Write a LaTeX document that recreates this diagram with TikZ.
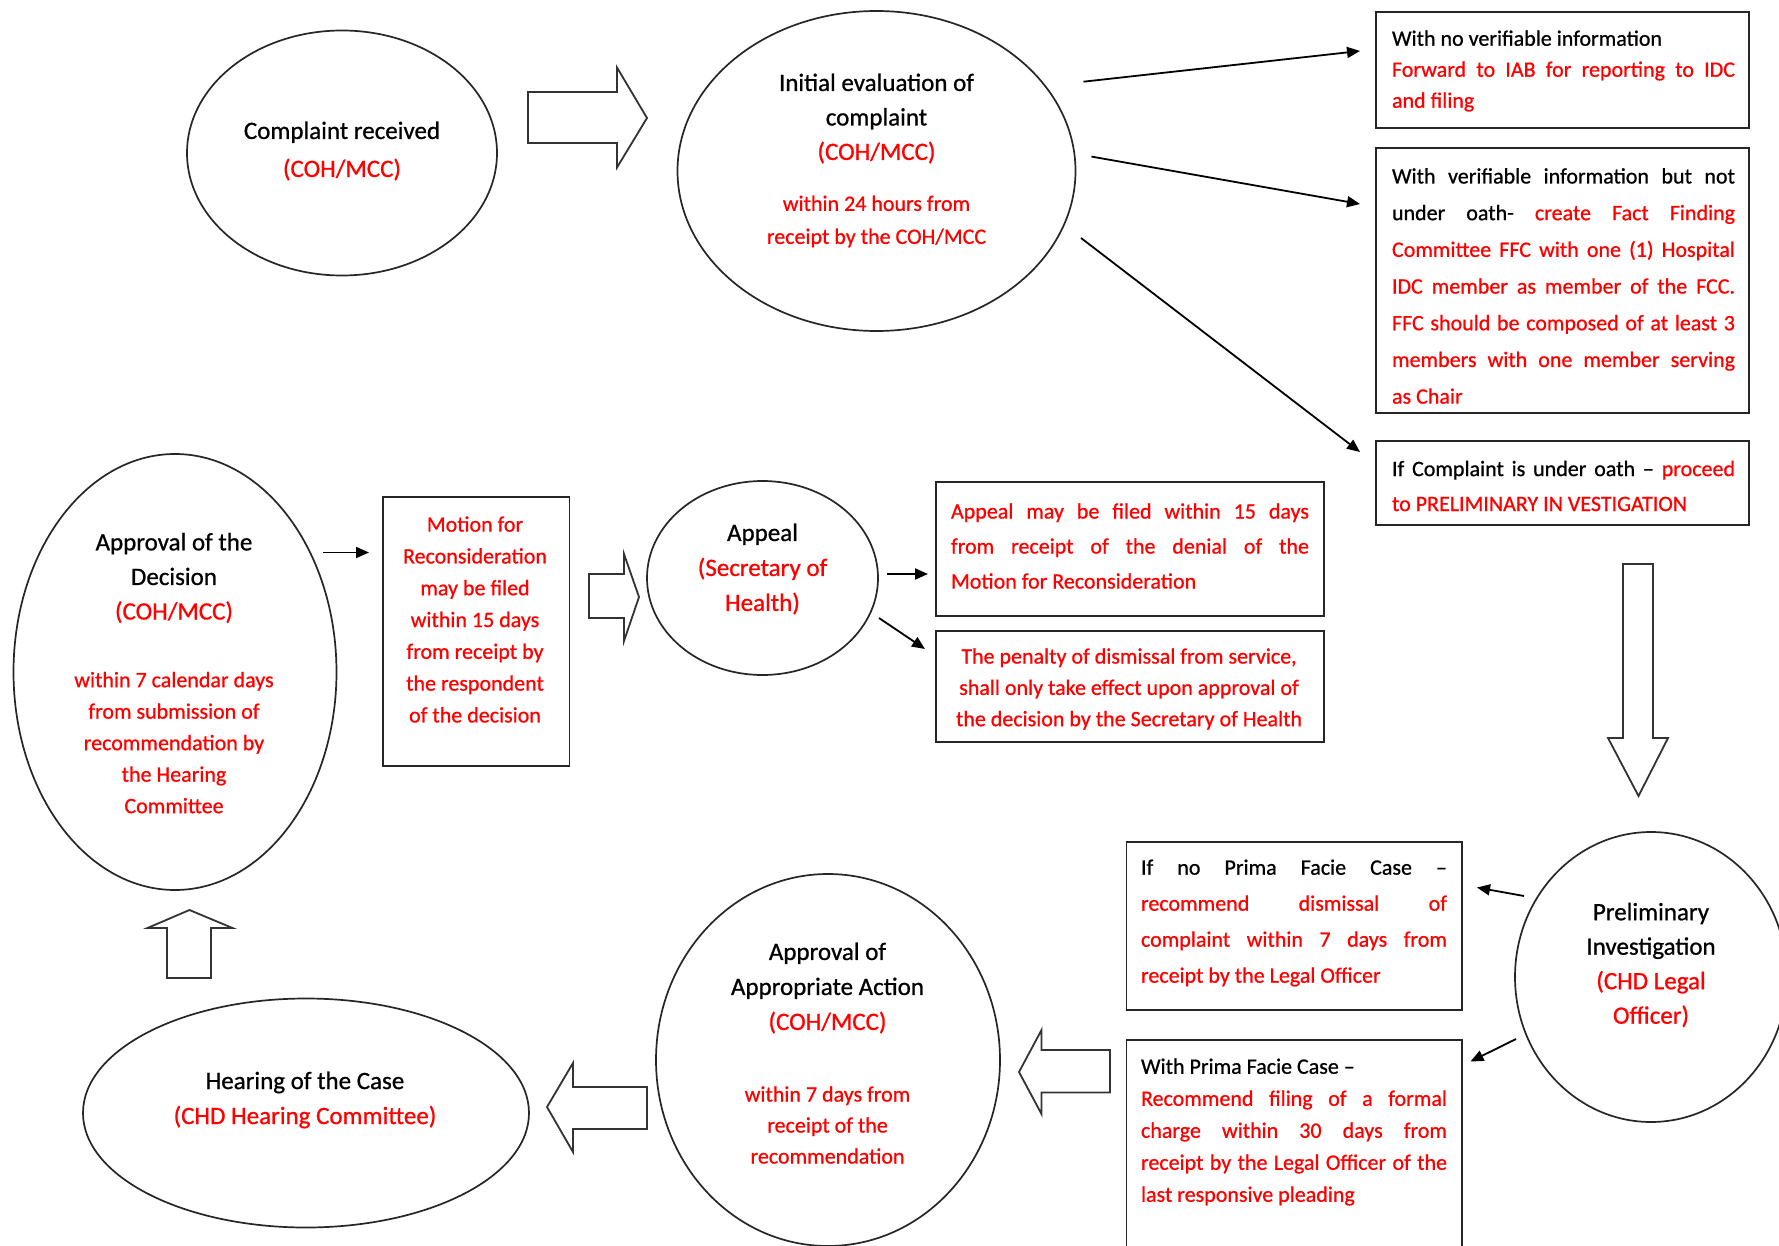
\documentclass[tikz,border=0pt]{standalone}
\usepackage{fontspec}
\setmainfont{Carlito}[FakeBold=0.8]
\usetikzlibrary{arrows.meta,shapes.geometric}
\newcommand\jline[1]{\noindent\hbox to \hsize{\spaceskip=0pt \xspaceskip=0pt #1}\par}
\newcommand\lline[1]{\noindent\hbox to \hsize{\spaceskip=0pt \xspaceskip=0pt #1\hfil}\par}
\newcommand\rd[1]{{\color{red}#1}}
\begin{document}
\begin{tikzpicture}[x=1pt,y=-1pt,
  ell/.style={draw=black!85,line width=1.7pt,ellipse,inner sep=0pt},
  bx/.style={draw=black!85,line width=1.8pt,rectangle,inner sep=0pt,anchor=north west},
  blk/.style={draw=black!80,line width=1.8pt,fill=white,line join=miter},
  arr/.style={draw=black,line width=1.8pt,-{Triangle[length=13pt,width=11pt]}},
  ttl/.style={align=center,inner sep=0pt},
  txt/.style={inner sep=0pt}]
\useasboundingbox (0,0) rectangle (1779,1246);
\fill[white] (0,0) rectangle (1779,1246);
\clip (0,0) rectangle (1779,1246);

% ellipses
\node[ell,minimum width=310,minimum height=245] (cr) at (342,153) {};
\node[ell,minimum width=398,minimum height=320] (ie) at (876.5,171) {};
\node[ell,minimum width=272,minimum height=290] (pi) at (1651,977) {};
\node[ell,minimum width=344,minimum height=372] (aa) at (828,1060) {};
\node[ell,minimum width=446,minimum height=229] (hc) at (306,1113) {};
\node[ell,minimum width=323,minimum height=436] (ad) at (175,672) {};
\node[ell,minimum width=231,minimum height=194] (ap) at (762.5,578) {};

% boxes
\node[bx,minimum width=373,minimum height=116] (b1) at (1375,11) {};
\node[bx,minimum width=373,minimum height=264.5] (b2) at (1375,147.5) {};
\node[bx,minimum width=373,minimum height=84] (b3) at (1375,440) {};
\node[bx,minimum width=388,minimum height=134] (bap) at (935,481) {};
\node[bx,minimum width=388,minimum height=111] (bpen) at (935,630) {};
\node[bx,minimum width=186.5,minimum height=269] (bmot) at (382,496) {};
\node[bx,minimum width=335.5,minimum height=168] (bnp) at (1125.5,841) {};
\node[bx,minimum width=335.5,minimum height=260] (bwp) at (1125.5,1039) {};

% ellipse texts
\node[ttl,font=\fontsize{25}{38}\selectfont] (tcr) at (342,151) {Complaint received\\\rd{(COH/MCC)}};
\node[ttl,font=\fontsize{25}{34.5}\selectfont] (tie1) at (876.5,118.5) {Initial evaluation of\\complaint\\\rd{(COH/MCC)}};
\node[ttl,font=\fontsize{22}{33}\selectfont,text=red] (tie2) at (876.5,221.5) {within 24 hours from\\receipt by the COH/MCC};
\node[ttl,font=\fontsize{25}{34.6}\selectfont] (tad1) at (174,578) {Approval of the\\Decision\\\rd{(COH/MCC)}};
\node[ttl,font=\fontsize{22}{31.5}\selectfont,text=red] (tad2) at (174,742.6) {within 7 calendar days\\from submission of\\recommendation by\\the Hearing\\Committee};
\node[ttl,font=\fontsize{25}{35}\selectfont] (tap) at (762.5,569) {Appeal\\\rd{(Secretary of}\\\rd{Health)}};
\node[ttl,font=\fontsize{25}{35}\selectfont] (thc) at (305,1100) {Hearing of the Case\\\rd{(CHD Hearing Committee)}};
\node[ttl,font=\fontsize{25}{35}\selectfont] (taa1) at (827.5,988) {Approval of\\Appropriate Action\\\rd{(COH/MCC)}};
\node[ttl,font=\fontsize{22}{31}\selectfont,text=red] (taa2) at (827.5,1125) {within 7 days from\\receipt of the\\recommendation};
\node[ttl,font=\fontsize{25}{34.5}\selectfont] (tpi) at (1651,965) {Preliminary\\Investigation\\\rd{(CHD Legal}\\\rd{Officer)}};

% box texts
\node[ttl,font=\fontsize{22}{31.8}\selectfont,text=red] (tmot) at (475,619.5) {Motion for\\Reconsideration\\may be filed\\within 15 days\\from receipt by\\the respondent\\of the decision};
\node[ttl,font=\fontsize{22}{31.3}\selectfont,text=red] (tpen) at (1129,689) {The penalty of dismissal from service,\\shall only take effect upon approval of\\the decision by the Secretary of Health};
\node[txt,text width=343,font=\fontsize{22}{31}\selectfont] (tb1) at (1563.5,71) {%
\lline{With no verifiable information}%
\jline{\rd{Forward to IAB for reporting to IDC}}%
\lline{\rd{and filing}}};
\node[txt,text width=343,font=\fontsize{22}{36.7}\selectfont] (tb2) at (1563.5,286) {%
\jline{With verifiable information but not}%
\jline{under oath- \rd{create Fact Finding}}%
\jline{\rd{Committee FFC with one (1) Hospital}}%
\jline{\rd{IDC member as member of the FCC.}}%
\jline{\rd{FFC should be composed of at least 3}}%
\jline{\rd{members with one member serving}}%
\lline{\rd{as Chair}}};
\node[txt,text width=343,font=\fontsize{22}{35}\selectfont] (tb3) at (1563.5,486) {%
\jline{If Complaint is under oath -- \rd{proceed}}%
\lline{\rd{to PRELIMINARY IN VESTIGATION}}};
\node[txt,text width=358,font=\fontsize{22}{35}\selectfont,text=red] (tbap) at (1130,546) {%
\jline{Appeal may be filed within 15 days}%
\jline{from receipt of the denial of the}%
\lline{Motion for Reconsideration}};
\node[txt,text width=306,font=\fontsize{22}{36}\selectfont] (tbnp) at (1294,923) {%
\jline{If no Prima Facie Case --}%
\jline{\rd{recommend dismissal of}}%
\jline{\rd{complaint within 7 days from}}%
\lline{\rd{receipt by the Legal Officer}}};
\node[txt,text width=306,font=\fontsize{22}{32}\selectfont] (tbwp) at (1294,1132) {%
\lline{With Prima Facie Case --}%
\jline{\rd{Recommend filing of a formal}}%
\jline{\rd{charge within 30 days from}}%
\jline{\rd{receipt by the Legal Officer of the}}%
\lline{\rd{last responsive pleading}}};

% block arrows
\draw[blk] (528,92) -- (617,92) -- (617,67.5) -- (647,118) -- (617,167.5) -- (617,143) -- (528,143) -- cycle;
\draw[blk] (1623,564) -- (1653,564) -- (1653,738) -- (1668,738) -- (1638.5,796) -- (1608,738) -- (1623,738) -- cycle;
\draw[blk] (589,574) -- (624,574) -- (624,554) -- (639,597) -- (624,641) -- (624,618) -- (589,618) -- cycle;
\draw[blk] (1110,1050) -- (1041.5,1050) -- (1041.5,1030) -- (1019,1072) -- (1041.5,1114) -- (1041.5,1092.5) -- (1110,1092.5) -- cycle;
\draw[blk] (647,1087) -- (573,1087) -- (573,1063) -- (547,1107) -- (573,1152) -- (573,1129) -- (647,1129) -- cycle;
\draw[blk] (167,978) -- (167,928) -- (147.5,928) -- (189.5,910) -- (232.5,928) -- (211,928) -- (211,978) -- cycle;

% thin arrows
\coordinate (a1s) at (1083.5,81.7); \coordinate (a1e) at (1360,51);
\coordinate (a2s) at (1091.5,156.6); \coordinate (a2e) at (1360,204);
\coordinate (a3s) at (1081,238); \coordinate (a3e) at (1360,452);
\coordinate (a4s) at (323.4,552.5); \coordinate (a4e) at (369,552.5);
\coordinate (a5s) at (887,574); \coordinate (a5e) at (928,574);
\coordinate (a6s) at (879,618); \coordinate (a6e) at (925,649);
\coordinate (a7s) at (1524,896); \coordinate (a7e) at (1477,887.5);
\coordinate (a8s) at (1516,1039); \coordinate (a8e) at (1470.5,1061.5);
\foreach \i in {1,...,8} {\draw[arr] (a\i s) -- (a\i e);}
\end{tikzpicture}
\end{document}
